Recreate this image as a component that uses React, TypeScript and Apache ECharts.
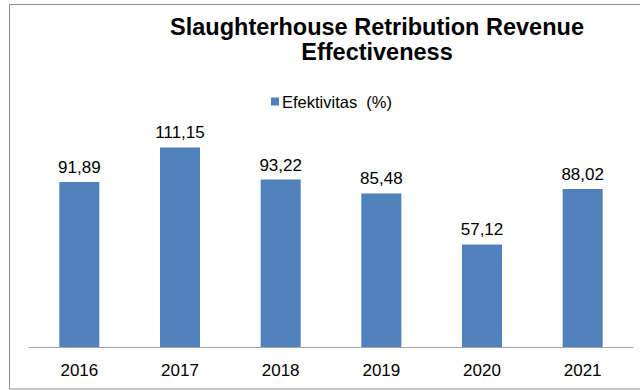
import React, { useEffect, useRef } from "react";
import * as echarts from "echarts";

const categories = ["2016", "2017", "2018", "2019", "2020", "2021"];
const effectiveness = [91.89, 111.15, 93.22, 85.48, 57.12, 88.02];
const seriesName = "Efektivitas  (%)";
const titleLines = ["Slaughterhouse Retribution Revenue", "Effectiveness"];

const FONT = "'Liberation Sans', Arial, sans-serif";

export default function App() {
  const ref = useRef<HTMLDivElement>(null);
  useEffect(() => {
    if (!ref.current) return;
    const chart = echarts.init(ref.current, undefined, { renderer: "svg" });
    const titleStyle = {
      fontFamily: FONT,
      fontSize: 23.5,
      fontWeight: "bold",
      color: "#000000",
      lineHeight: 23.5,
    };
    chart.setOption({
      animation: false,
      backgroundColor: "#ffffff",
      textStyle: { fontFamily: FONT },
      title: [
        {
          text: titleLines[0],
          left: 377,
          top: 15,
          padding: 0,
          textAlign: "center",
          textStyle: titleStyle,
        },
        {
          text: titleLines[1],
          left: 377,
          top: 40,
          padding: 0,
          textAlign: "center",
          textStyle: titleStyle,
        },
      ],
      legend: {
        left: 266,
        top: 88,
        itemWidth: 8,
        itemHeight: 8,
        icon: "rect",
        textStyle: {
          fontFamily: FONT,
          fontSize: 16.5,
          color: "#000000",
          padding: [0, 0, 0, -2],
        },
        data: [seriesName],
      },
      grid: { left: 29, right: 7, top: 131.5, bottom: 43 },
      xAxis: {
        type: "category",
        data: categories,
        axisLine: { lineStyle: { color: "#A6A6A6", width: 1 } },
        axisTick: { show: false },
        axisLabel: {
          fontFamily: FONT,
          fontSize: 17,
          color: "#000000",
          margin: 15,
        },
      },
      yAxis: {
        type: "value",
        min: 0,
        max: 120,
        show: false,
        splitLine: { show: false },
      },
      series: [
        {
          name: seriesName,
          type: "bar",
          data: effectiveness,
          barWidth: 40,
          itemStyle: { color: "#4F81BD" },
          label: {
            show: true,
            position: "top",
            distance: 6,
            fontFamily: FONT,
            fontSize: 17,
            color: "#000000",
            formatter: (p: any) => p.value.toFixed(2).replace(".", ","),
          },
        },
      ],
      graphic: [
        {
          type: "rect",
          silent: true,
          shape: { x: 9.5, y: 4.5, width: 640, height: 384.5 },
          style: { fill: "none", stroke: "#8C8C8C", lineWidth: 1 },
        },
      ],
    });
    return () => chart.dispose();
  }, []);
  return (
    <div
      ref={ref}
      style={{ position: "fixed", left: 0, top: 0, width: 640, height: 390 }}
    />
  );
}
